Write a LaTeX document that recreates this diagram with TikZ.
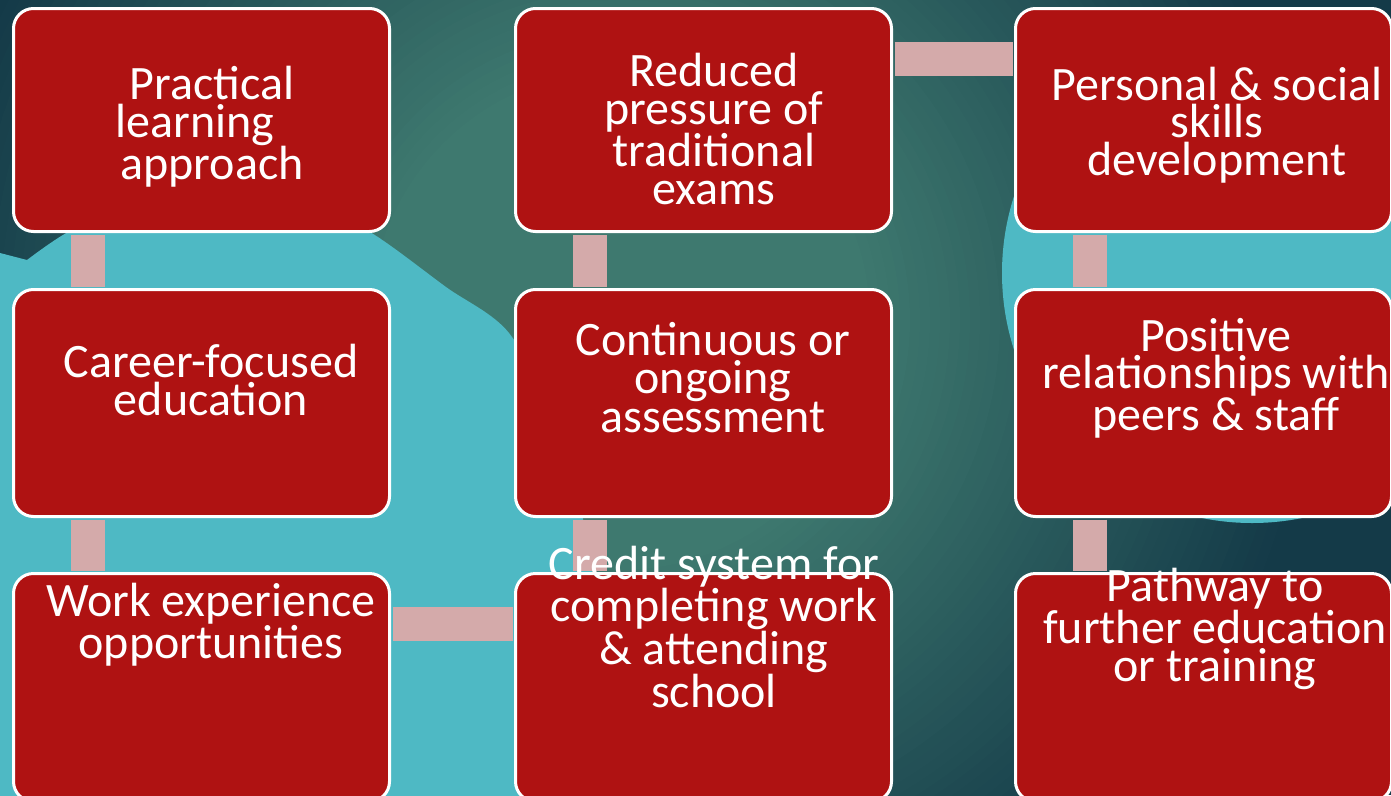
\documentclass[tikz,border=0pt]{standalone}
\usepackage{fontspec}
\setmainfont{Carlito}
\usepackage{tikz}
\usetikzlibrary{calc}

\definecolor{boxred}{RGB}{175,18,18}
\definecolor{linkpink}{RGB}{212,170,170}
\definecolor{blobcyan}{RGB}{78,185,196}
\definecolor{tealmid}{RGB}{62,121,111}
\definecolor{tealdark}{RGB}{20,58,72}

\begin{document}
\begin{tikzpicture}[x=1pt,y=-1pt,
  box/.style={draw=white,line width=3pt,fill=boxred,rounded corners=20pt,
    minimum width=376pt,anchor=north west,inner sep=0pt},
  txt/.style={text=white,align=center,inner sep=0pt,
    font=\fontsize{48}{37.5}\selectfont},
  link/.style={draw=linkpink,line width=34pt,shorten >=1.5pt,shorten <=1.5pt}]
\useasboundingbox (0,0) rectangle (1391,795);
\clip (0,0) rectangle (1391,795);
% background glow
\fill[tealdark] (0,0) rectangle (1391,795);
\foreach \i in {0,...,45} {
  \pgfmathsetmacro\rad{700-10*\i}
  \pgfmathtruncatemacro\pct{100*\i/45}
  \fill[tealmid!\pct!tealdark] (620,320) circle (\rad);
}
\fill[blobcyan] plot[smooth] coordinates {(27,260) (68,232) (140,198) (219,188)
  (300,200) (370,232) (446,287) (509,333) (560,430) (587,540) (605,680) (612,800)}
  -- (0,800) -- (0,253) -- cycle;
\fill[blobcyan] (1252,273) circle (250);
% boxes
\node[box,minimum height=223pt] (b1) at (12,7) {};
\node[box,minimum height=223pt] (b2) at (514,7) {};
\node[box,minimum height=223pt] (b3) at (1014,7) {};
\node[box,minimum height=227pt] (b4) at (12,288) {};
\node[box,minimum height=227pt] (b5) at (514,288) {};
\node[box,minimum height=227pt] (b6) at (1014,288) {};
\node[box,minimum height=228pt] (b7) at (12,572) {};
\node[box,minimum height=228pt] (b8) at (514,572) {};
\node[box,minimum height=228pt] (b9) at (1014,572) {};
% links
\draw[link] ([xshift=-114pt]b1.south) -- ([xshift=-114pt]b4.north);
\draw[link] ([xshift=-114pt]b4.south) -- ([xshift=-114pt]b7.north);
\draw[link] ([yshift=-52pt]b7.north east) -- ([yshift=-52pt]b8.north west);
\draw[link] ([xshift=-114pt]b8.north) -- ([xshift=-114pt]b5.south);
\draw[link] ([xshift=-114pt]b5.north) -- ([xshift=-114pt]b2.south);
\draw[link] ([yshift=-52pt]b2.north east) -- ([yshift=-52pt]b3.north west);
\draw[link] ([xshift=-114pt]b3.south) -- ([xshift=-114pt]b6.north);
\draw[link] ([xshift=-114pt]b6.south) -- ([xshift=-114pt]b9.north);
% texts
\node[txt] (t1) at (212,127) {Practical\\learning\rule{34pt}{0pt}\\approach};
\node[txt] (t2) at (714,129) {Reduced\\pressure of\\traditional\\exams};
\node[txt] (t3) at (1217,125) {Personal \& social\\skills\\development};
\node[txt] (t4) at (211,380) {Career-focused\\education};
\node[txt] (t5) at (713,378) {Continuous or\\ongoing\\assessment};
\node[txt] (t6) at (1216,378) {Positive\\relationships with\\peers \& staff};
\node[txt] (t7) at (211,625) {Work experience\\opportunities};
\node[txt] (t8) at (714,627) {Credit system for\\completing work\\\& attending\\school};
\node[txt] (t9) at (1215,629) {Pathway to\\further education\\or training};
\end{tikzpicture}
\end{document}
